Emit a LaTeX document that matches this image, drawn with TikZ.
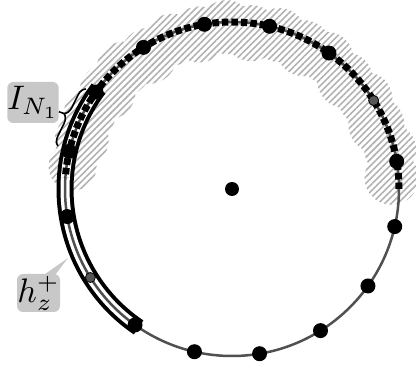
\documentclass[tikz,border=0pt]{standalone}
\usepackage{graphicx}
\usetikzlibrary{calc,patterns.meta,decorations.pathreplacing}
\definecolor{boxgray}{RGB}{200,200,200}
\definecolor{ringgray}{RGB}{80,80,80}
\definecolor{hatchgray}{RGB}{178,178,178}
\definecolor{dotgray}{RGB}{85,85,85}
\begin{document}
\begin{tikzpicture}[x=1pt,y=1pt,
  dot/.style={circle,fill=black,inner sep=0pt,minimum size=15pt},
  gdot/.style={circle,fill=dotgray,draw=black,line width=0.8pt,inner sep=0pt,minimum size=10pt},
  lbl/.style={fill=boxgray,rounded corners=6pt,inner sep=0pt},
  ring/.style={draw=ringgray,line width=2.5pt},
  dashring/.style={draw=black,line width=7pt,dash pattern=on 6.5pt off 3pt},
  hatch/.style={pattern={Lines[angle=45,distance=4.6pt,line width=1.6pt]},pattern color=hatchgray},
  bandout/.style={draw=black,line width=17pt},
  bandin/.style={draw=white,line width=9pt},
  bracestyle/.style={draw=black,line width=1.6pt,decorate,decoration={brace,amplitude=9pt}},
]
\useasboundingbox (0,0) rectangle (416,367);
\coordinate (C) at (232,178);
\def\R{167}
% hatched cloud
\fill[hatch] foreach \a/\rc/\rb in {4/160/27,14/163/26,24/158/28,34/161/27,44/157/28,54/162/26,63/158/28,73/161/27,83/157/28,92/162/27,102/158/28,112/161/26,122/157/28,132/162/27,142/158/28,152/161/26,162/158/27,172/161/24}
  { ([shift={(\a:\rc)}]C) circle[radius=\rb] };
% band
\draw[bandout] ([shift={(143:\R)}]C) arc[start angle=143,end angle=236,radius=\R];
\draw[bandin] ([shift={(143:\R)}]C) arc[start angle=143,end angle=236,radius=\R];
% ring
\draw[ring] (C) circle[radius=\R];
% dashed arc
\draw[dashring] ([shift={(0:\R)}]C) arc[start angle=0,end angle=176,radius=\R];
% dots
\foreach \k in {0,2,3,4,5,6,7,8,10,11,12,13,14,15} {
  \pgfmathsetmacro\ang{9.5+22.5*\k}
  \node[dot] (d\k) at ([shift={(\ang:\R)}]C) {};
}
\foreach \k in {1,9} {
  \pgfmathsetmacro\ang{9.5+22.5*\k}
  \node[gdot] (d\k) at ([shift={(\ang:\R)}]C) {};
}
\node[dot,minimum size=14pt] (ctr) at (C) {};
% label I_N1 with brace
\node[lbl,minimum width=50pt,minimum height=41pt] (lI) at (33,264.5) {\scalebox{3.4}{$I_{N_1}$}};
\coordinate (b1) at (58,221);
\coordinate (b2) at (86,278);
\coordinate (btip) at (63.9,253.5);
\draw[bracestyle] (b1) -- (b2);
\draw[line width=1.6pt] (lI) -- (btip);
% label h_z^+
\node[lbl,minimum width=43pt,minimum height=38pt] (lh) at (38.5,74) {\scalebox{3.4}{$h_z^+$}};
\coordinate (ptip) at (68,109);
\fill[boxgray] ([xshift=4pt,yshift=-2pt]lh.north) -- (ptip) -- ([xshift=16pt,yshift=-2pt]lh.north) -- cycle;
\end{tikzpicture}
\end{document}
